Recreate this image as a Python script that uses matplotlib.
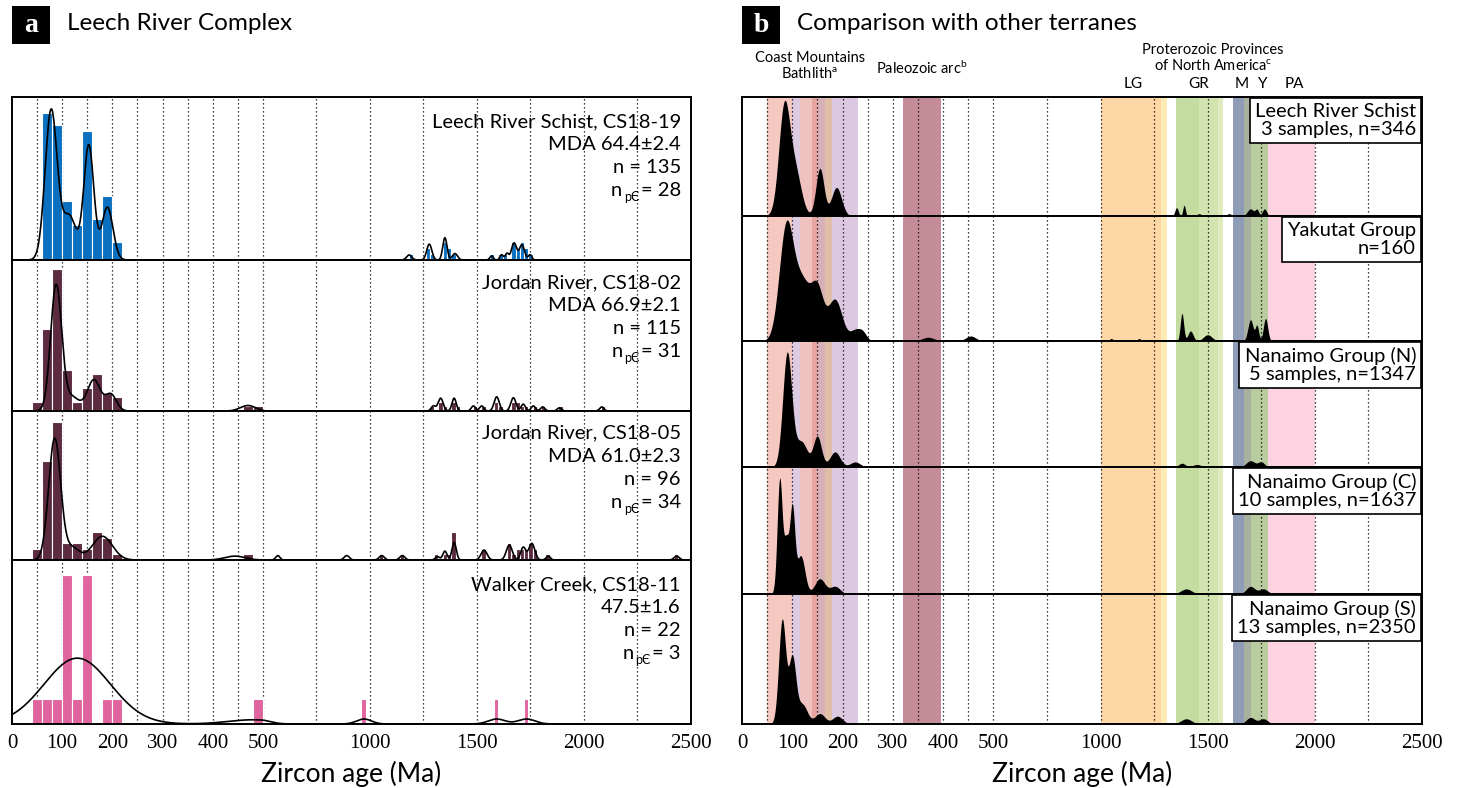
import numpy as np
import matplotlib
matplotlib.use("Agg")
import matplotlib.pyplot as plt
from matplotlib.patches import Rectangle

plt.rcParams['font.family'] = ['Lato', 'DejaVu Sans']
plt.rcParams['mathtext.fontset'] = 'custom'
plt.rcParams['mathtext.rm'] = 'Lato'
plt.rcParams['mathtext.it'] = 'Lato:italic'

# ---------------- DATA ----------------
tick_ages = [0, 100, 200, 300, 400, 500, 1000, 1500, 2000, 2500]
grid_ages = [50, 100, 150, 200, 250, 300, 350, 400, 450, 500,
             750, 1000, 1250, 1500, 1750, 2000, 2250]

# Panel a: histogram bins (left edge, Ma, 20 Ma wide) and counts
lrs_bins = [60, 80, 100, 120, 140, 160, 180, 200,
            1180, 1260, 1280, 1340, 1360, 1380, 1560, 1600, 1620, 1660, 1680, 1700, 1720, 1740]
lrs_counts = [25, 23, 10, 6, 22, 7, 11, 3,
              1, 2, 1, 3, 2, 1, 1, 1, 1, 3, 2, 3, 2, 1]
jr02_bins = [40, 60, 80, 100, 120, 140, 160, 180, 200, 460, 480,
             1280, 1320, 1340, 1380, 1400, 1480, 1520, 1580, 1600, 1660, 1680, 1700, 1720, 1760, 1800, 1880, 2080]
jr02_counts = [2, 18, 31, 9, 2, 5, 8, 4, 3, 1, 1,
               1, 2, 1, 2, 1, 1, 1, 2, 1, 2, 2, 1, 1, 1, 1, 1, 1]
jr05_bins = [40, 60, 80, 100, 120, 140, 160, 180, 200, 460,
             1040, 1140, 1300, 1340, 1360, 1380, 1520, 1640, 1660, 1680, 1700, 1720, 1740, 1760, 1820, 2420]
jr05_counts = [2, 18, 25, 3, 3, 2, 5, 4, 1, 1,
               1, 1, 1, 1, 1, 5, 2, 3, 1, 2, 2, 2, 3, 2, 1, 1]
wc_bins = [40, 60, 80, 100, 120, 140, 180, 200, 480, 960, 1580, 1720]
wc_counts = [1, 1, 1, 6, 1, 6, 1, 1, 1, 1, 1, 1]

# Panel a: KDE peaks (age Ma, height in count units, width Ma)
lrs_kde_age = [78, 114, 153, 190, 1183, 1277, 1350, 1397, 1568, 1615, 1640, 1673, 1710, 1748]
lrs_kde_h = [25.5, 7.5, 19.5, 9.0, 0.86, 2.7, 3.8, 1.1, 0.7, 0.9, 1.1, 2.9, 2.6, 0.9]
lrs_kde_w = [12, 14, 10, 11, 12, 12, 10, 12, 8, 8, 8, 12, 12, 8]
jr02_kde_age = [88, 120, 163, 197, 470, 1296, 1330, 1393, 1483, 1522, 1592, 1670, 1716, 1763, 1807, 1885, 2083]
jr02_kde_h = [27.5, 3.0, 6.8, 3.6, 1.2, 1.1, 2.8, 2.8, 1.1, 1.1, 3.1, 2.9, 1.5, 1.1, 0.9, 0.7, 0.9]
jr02_kde_w = [11, 14, 13, 11, 15, 10, 12, 10, 10, 10, 12, 12, 10, 10, 10, 10, 10]
jr05_kde_age = [85, 120, 180, 444, 569, 891, 1055, 1151, 1315, 1350, 1393, 1533, 1651, 1716, 1756, 1833, 2433]
jr05_kde_h = [22.0, 2.2, 4.3, 0.7, 0.8, 0.8, 0.8, 0.8, 0.6, 1.6, 3.2, 1.8, 2.7, 2.3, 3.0, 0.7, 0.7]
jr05_kde_w = [12, 14, 20, 20, 10, 12, 12, 12, 10, 10, 10, 14, 14, 12, 14, 10, 12]
wc_kde_age = [130, 480, 972, 1592, 1732]
wc_kde_h = [2.65, 0.17, 0.2, 0.2, 0.2]
wc_kde_w = [66, 50, 35, 40, 40]

samples_a = [
    dict(bins=lrs_bins, counts=lrs_counts, ka=lrs_kde_age, kh=lrs_kde_h, kw=lrs_kde_w, ytop=27.8,
         color='#0a70bf', lines=["Leech River Schist, CS18-19", "MDA 64.4\u00b12.4", "n = 135"], npc="28"),
    dict(bins=jr02_bins, counts=jr02_counts, ka=jr02_kde_age, kh=jr02_kde_h, kw=jr02_kde_w, ytop=33.0,
         color='#5c2b40', lines=["Jordan River, CS18-02", "MDA 66.9\u00b12.1", "n = 115"], npc="31"),
    dict(bins=jr05_bins, counts=jr05_counts, ka=jr05_kde_age, kh=jr05_kde_h, kw=jr05_kde_w, ytop=27.0,
         color='#5c2b40', lines=["Jordan River, CS18-05", "MDA 61.0\u00b12.3", "n = 96"], npc="34"),
    dict(bins=wc_bins, counts=wc_counts, ka=wc_kde_age, kh=wc_kde_h, kw=wc_kde_w, ytop=6.6,
         color='#e0649e', lines=["Walker Creek, CS18-11", "47.5\u00b11.6", "n = 22"], npc="3"),
]

# Panel b: reference age bands (start Ma, end Ma, colour)
band_start = [50, 100, 115, 140, 150, 165, 180, 320, 1000, 1280, 1350, 1460, 1550, 1620, 1670, 1700, 1780]
band_end = [100, 115, 140, 150, 165, 180, 230, 395, 1280, 1310, 1460, 1550, 1570, 1670, 1700, 1780, 2000]
band_color = ['#f5c8c0', '#dccbe0', '#f0c2bf', '#e8a5a0', '#d8b0b8', '#e0bfa8', '#dcc8e0', '#c48c98',
              '#fdd7a6', '#fdebb5', '#c4dca0', '#d4e4b0', '#e0ecc0', '#8f9cb8', '#a8b0a0', '#b8cca0', '#fdd3e2']

# Panel b: KDE peaks (age Ma, height as fraction of panel, width Ma)
b_names = ["Leech River Schist\n3 samples, n=346", "Yakutat Group\nn=160",
           "Nanaimo Group (N)\n5 samples, n=1347", "Nanaimo Group (C)\n10 samples, n=1637",
           "Nanaimo Group (S)\n13 samples, n=2350"]
lrsb_age = [84, 106, 155, 188, 1355, 1390, 1460, 1600, 1700, 1730, 1765]
lrsb_h = [0.9, 0.35, 0.40, 0.24, 0.07, 0.09, 0.02, 0.02, 0.06, 0.05, 0.06]
lrsb_w = [11, 12, 8, 10, 8, 6, 10, 10, 15, 8, 10]
yak_age = [88, 120, 150, 185, 225, 240, 370, 455, 1050, 1180, 1380, 1420, 1500, 1700, 1730, 1770, 2180, 2250]
yak_h = [0.9, 0.45, 0.38, 0.33, 0.08, 0.06, 0.03, 0.04, 0.02, 0.02, 0.22, 0.08, 0.05, 0.17, 0.12, 0.18, 0.01, 0.01]
yak_w = [14, 16, 12, 14, 10, 8, 12, 10, 8, 8, 8, 12, 20, 12, 8, 10, 10, 10]
nn_age = [90, 118, 150, 185, 225, 1380, 1450, 1700, 1750]
nn_h = [0.9, 0.2, 0.24, 0.12, 0.04, 0.03, 0.02, 0.05, 0.04]
nn_w = [9, 12, 8, 10, 10, 15, 20, 20, 15]
nc_age = [75, 88, 100, 117, 155, 185, 1400, 1700, 1760]
nc_h = [0.9, 0.4, 0.66, 0.3, 0.12, 0.06, 0.04, 0.06, 0.04]
nc_w = [5, 5, 5, 8, 10, 10, 25, 20, 20]
ns_age = [80, 100, 120, 155, 190, 1400, 1700, 1760]
ns_h = [0.8, 0.5, 0.15, 0.08, 0.06, 0.04, 0.05, 0.04]
ns_w = [7, 7, 10, 10, 10, 25, 20, 20]
b_peaks = [(lrsb_age, lrsb_h, lrsb_w), (yak_age, yak_h, yak_w), (nn_age, nn_h, nn_w),
           (nc_age, nc_h, nc_w), (ns_age, ns_h, ns_w)]

# ---------------- SCALE ----------------
K = 0.4263


def fwd(x):
    x = np.asarray(x, float)
    return np.where(x <= 500, x, 500 + (x - 500) * K)


def inv(y):
    y = np.asarray(y, float)
    return np.where(y <= 500, y, 500 + (y - 500) / K)


def curve(xs, ages, hs, ws):
    y = np.zeros_like(xs)
    for a, h, w in zip(ages, hs, ws):
        y += h * np.exp(-0.5 * ((xs - a) / w) ** 2)
    return y


W, H = 1459, 788
fig = plt.figure(figsize=(W / 100, H / 100), dpi=100)


def add_ax(l, r, t, b):
    return fig.add_axes([l / W, 1 - b / H, (r - l) / W, (b - t) / H])


def style_ax(ax, bottom):
    ax.set_xscale('function', functions=(fwd, inv))
    ax.set_xlim(0, 2500)
    ax.set_yticks([])
    for s in ax.spines.values():
        s.set_linewidth(1.4)
    ax.set_xticks(tick_ages)
    ax.tick_params(axis='x', length=0, pad=7)
    if bottom:
        ax.set_xticklabels([str(t) for t in tick_ages], family='Liberation Serif', fontsize=15)
        ax.set_xlabel("Zircon age (Ma)", fontsize=19, labelpad=6)
    else:
        ax.set_xticklabels([])
    ax.vlines(grid_ages, 0, 1, transform=ax.get_xaxis_transform(), colors='k',
              linestyles=(0, (1, 2.2)), lw=0.9, zorder=1.5)


xs = np.linspace(0, 2500, 5001)

# ---------------- PANEL A ----------------
a_bounds = [97, 260, 411, 560, 724]
for i, s in enumerate(samples_a):
    ax = add_ax(12, 691, a_bounds[i], a_bounds[i + 1])
    style_ax(ax, i == 3)
    ax.bar(s['bins'], s['counts'], width=20, align='edge', color=s['color'],
           edgecolor='white', lw=0.8, zorder=2)
    ax.plot(xs, curve(xs, s['ka'], s['kh'], s['kw']), color='k', lw=1.2, zorder=3)
    ax.set_ylim(0, s['ytop'])
    yy = 0.85
    for ln in s['lines']:
        ax.text(0.985, yy, ln, transform=ax.transAxes, ha='right', va='center', fontsize=14.5, zorder=5)
        yy -= 23 / (a_bounds[i + 1] - a_bounds[i])
    t1 = ax.text(0.985, yy, "= " + s['npc'], transform=ax.transAxes, ha='right', va='center',
                 fontsize=14.5, zorder=5)
    t2 = ax.annotate("p\u0404", xy=(0, 0), xycoords=t1, xytext=(-1, -3), textcoords='offset points',
                     ha='right', va='bottom', fontsize=9, zorder=5)
    ax.annotate("n", xy=(0, 0), xycoords=(t2, t1), xytext=(-1, 0), textcoords='offset points',
                ha='right', va='bottom', fontsize=14.5, zorder=5)

# ---------------- PANEL B ----------------
b_bounds = [97, 216, 341, 467, 594, 724]
for i in range(5):
    ax = add_ax(742, 1422, b_bounds[i], b_bounds[i + 1])
    style_ax(ax, i == 4)
    for s0, e0, c in zip(band_start, band_end, band_color):
        ax.axvspan(s0, e0, color=c, lw=0, zorder=0)
    ages, hs, ws = b_peaks[i]
    ax.fill_between(xs, 0, curve(xs, ages, hs, ws), color='k', lw=0, zorder=3)
    ax.set_ylim(0, 1)
    ax.annotate(b_names[i], xy=(1, 1), xycoords='axes fraction', xytext=(-4.3, -4.3),
                textcoords='offset points', ha='right', va='top', fontsize=14.5, linespacing=1.05,
                bbox=dict(boxstyle='square,pad=0.25', fc='white', ec='k', lw=1.2), zorder=6)

# ---------------- TITLES ----------------
for x0, letter, title in [(12, 'a', 'Leech River Complex'), (742, 'b', 'Comparison with other terranes')]:
    fig.patches.append(Rectangle((x0 / W, 1 - 44 / H), 38 / W, 38 / H, transform=fig.transFigure,
                                 fc='k', ec='none'))
    fig.text((x0 + 19) / W, 1 - 25 / H, letter, color='white', fontsize=20, fontweight='bold',
             family='Liberation Serif', ha='center', va='center')
    fig.text((x0 + 55) / W, 1 - 24 / H, title, fontsize=17.5, ha='left', va='center')

# band labels above panel b
fig.text(810 / W, 1 - 58 / H, "Coast Mountains", fontsize=10.5, ha='center', va='center')
fig.text(810 / W, 1 - 74 / H, "Bathlith$^{\\rm a}$", fontsize=10.5, ha='center', va='center')
fig.text(922 / W, 1 - 68 / H, "Paleozoic arc$^{\\rm b}$", fontsize=10.5, ha='center', va='center')
fig.text(1213 / W, 1 - 50 / H, "Proterozoic Provinces", fontsize=10.5, ha='center', va='center')
fig.text(1213 / W, 1 - 66 / H, "of North America$^{\\rm c}$", fontsize=10.5, ha='center', va='center')
for xp, lab in [(1133, 'LG'), (1199, 'GR'), (1242, 'M'), (1263, 'Y'), (1294, 'PA')]:
    fig.text(xp / W, 1 - 84 / H, lab, fontsize=11, ha='center', va='center')

fig.savefig("out.png", dpi=100)
